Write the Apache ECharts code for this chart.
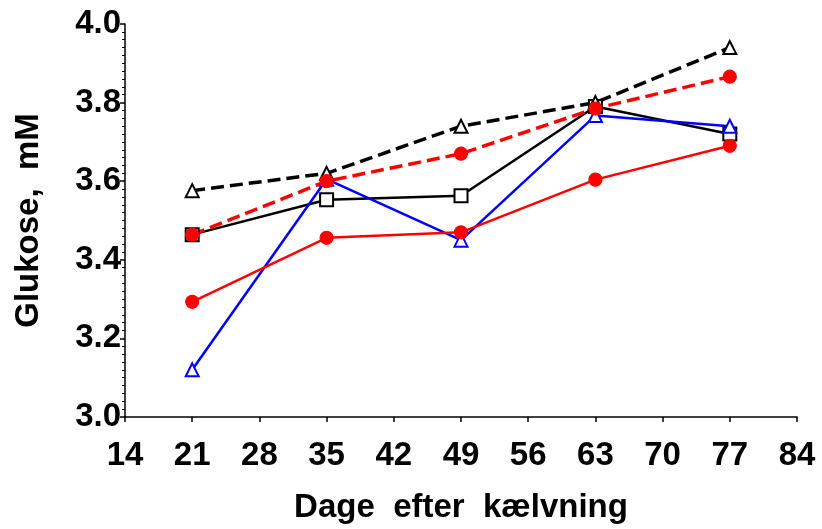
<!DOCTYPE html>
<html>
<head>
<meta charset="utf-8">
<script src="https://cdn.jsdelivr.net/npm/echarts@6/dist/echarts.min.js"></script>
<style>
  html, body { margin: 0; padding: 0; background: #fff; }
  #chart { width: 822px; height: 529px; }
</style>
</head>
<body>
<div id="chart"></div>
<script>
const days = [21, 35, 49, 63, 77];
const blackDashed = [3.576, 3.62, 3.74, 3.80, 3.94];
const redDashed = [3.464, 3.60, 3.67, 3.785, 3.866];
const blackSolid = [3.464, 3.553, 3.563, 3.79, 3.72];
const blueSolid = [3.12, 3.605, 3.45, 3.767, 3.74];
const redSolid = [3.293, 3.456, 3.47, 3.604, 3.69];

const FONT = "'Liberation Sans', Arial, sans-serif";

function pairs(vals) {
  return days.map((d, i) => [d, vals[i]]);
}

function line(data, color, symbol, dashed, width) {
  return {
    type: "line",
    data: pairs(data),
    symbol: symbol,
    symbolSize: 13,
    showAllSymbol: true,
    lineStyle: { color: color, width: width, type: dashed ? [13, 6] : "solid" },
    itemStyle: { color: color, borderColor: color, borderWidth: 1.2 },
    animation: false
  };
}

const textStyle = { fontFamily: FONT, fontSize: 33, fontWeight: "bold", color: "#000" };

const chart = echarts.init(document.getElementById("chart"));
chart.setOption({
  backgroundColor: "#fff",
  grid: { left: 125, right: 25, top: 24, bottom: 112 },
  xAxis: {
    type: "value",
    min: 14,
    max: 84,
    interval: 7,
    name: "Dage  efter  kælvning",
    nameLocation: "middle",
    nameGap: 74,
    nameTextStyle: textStyle,
    axisLine: { lineStyle: { color: "#000", width: 1.5 } },
    axisTick: { length: 5, lineStyle: { color: "#000", width: 1.5 } },
    axisLabel: Object.assign({ margin: 22 }, textStyle),
    splitLine: { show: false }
  },
  yAxis: {
    type: "value",
    min: 3.0,
    max: 4.0,
    interval: 0.2,
    name: "Glukose,  mM",
    nameLocation: "middle",
    nameRotate: 90,
    nameGap: 80,
    nameTextStyle: textStyle,
    axisLine: { show: true, lineStyle: { color: "#000", width: 1.5 } },
    axisTick: { show: true, length: 5, lineStyle: { color: "#000", width: 1.5 } },
    minorTick: { show: true, splitNumber: 10, length: 3, lineStyle: { color: "#000", width: 1 } },
    axisLabel: Object.assign({ margin: 4, formatter: v => v.toFixed(1) }, textStyle),
    splitLine: { show: false }
  },
  series: [
    line(blackSolid, "#000", "emptyRect", false, 2.5),
    line(blueSolid, "#0000ff", "emptyTriangle", false, 2.5),
    line(blackDashed, "#000", "emptyTriangle", true, 3.5),
    line(redSolid, "#ff0000", "circle", false, 2.5),
    line(redDashed, "#ff0000", "circle", true, 3.5)
  ]
});
</script>
</body>
</html>
